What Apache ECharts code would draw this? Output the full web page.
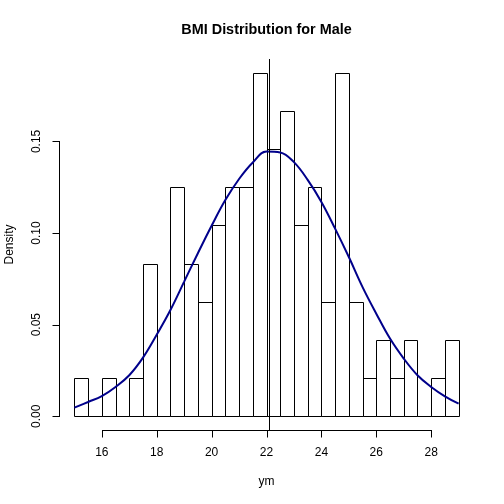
<!DOCTYPE html>
<html>
<head>
<meta charset="utf-8">
<script src="https://cdn.jsdelivr.net/npm/echarts@6/dist/echarts.min.js"></script>
<style>
html,body{margin:0;padding:0;background:#fff;}
#chart{width:504px;height:504px;}
</style>
</head>
<body>
<div id="chart"></div>
<script>
// Histogram bins (lower edges, width 0.5) and densities
const binLow = [15, 15.5, 16, 16.5, 17, 17.5, 18, 18.5, 19, 19.5, 20, 20.5, 21, 21.5,
                22, 22.5, 23, 23.5, 24, 24.5, 25, 25.5, 26, 26.5, 27, 27.5, 28, 28.5];
const binWidth = 0.5;
const binDensity = [0.0208, 0, 0.0208, 0, 0.0208, 0.0833, 0, 0.125, 0.0833, 0.0625, 0.1042, 0.125, 0.125, 0.1875,
                    0.1458, 0.1667, 0.1042, 0.125, 0.0625, 0.1875, 0.0625, 0.0208, 0.0417, 0.0208, 0.0417, 0, 0.0208, 0.0417];
// Normal curve
const curveX = [15, 15.5, 16, 16.5, 17, 17.5, 18, 18.5, 19, 19.5, 20, 20.5, 21, 21.5, 22,
                22.5, 23, 23.5, 24, 24.5, 25, 25.5, 26, 26.5, 27, 27.5, 28, 28.5, 29];
const curveY = [0.0047, 0.0078, 0.0110, 0.0160, 0.0224, 0.0320, 0.0445, 0.0580, 0.0735, 0.0890, 0.1040, 0.1180, 0.1295, 0.1385, 0.1445,
                0.1440, 0.1387, 0.1290, 0.1170, 0.1024, 0.0869, 0.0705, 0.0560, 0.0424, 0.0315, 0.0224, 0.0160, 0.0109, 0.0069];
const meanValue = 22.11;
const xTicks = [16, 18, 20, 22, 24, 26, 28];
const yTicks = [0, 0.05, 0.10, 0.15];
const xRange = [14.44, 29.56];
const yRange = [-0.0075, 0.195];

const FONT = '"Liberation Sans", Arial, sans-serif';
const TICK_LEN = 7;
const chart = echarts.init(document.getElementById('chart'), null, {renderer: 'canvas'});

const histData = binLow.map((lo, i) => [lo, lo + binWidth, binDensity[i]]);
const curveData = curveX.map((x, i) => [x, curveY[i]]);

chart.setOption({
  animation: false,
  backgroundColor: '#ffffff',
  title: {
    text: 'BMI Distribution for Male',
    left: 266.5,
    textAlign: 'center',
    top: 23,
    padding: 0,
    textStyle: {fontFamily: FONT, fontSize: 14.4, fontWeight: 'bold', color: '#000'}
  },
  grid: {left: 59, right: 30, top: 59, bottom: 74, containLabel: false, outerBoundsMode: 'none'},
  xAxis: {
    type: 'value',
    min: xRange[0], max: xRange[1],
    name: 'ym', nameLocation: 'middle', nameGap: 46,
    nameTextStyle: {fontFamily: FONT, fontSize: 12, color: '#000'},
    axisLine: {show: false},
    splitLine: {show: false},
    axisTick: {show: false},
    axisLabel: {show: true, customValues: xTicks, margin: 17, fontFamily: FONT, fontSize: 12, color: '#000'}
  },
  yAxis: {
    type: 'value',
    min: yRange[0], max: yRange[1],
    name: 'Density', nameLocation: 'middle', nameGap: 43, nameRotate: 90,
    nameTextStyle: {fontFamily: FONT, fontSize: 12, color: '#000'},
    axisLine: {show: false},
    splitLine: {show: false},
    axisTick: {show: false},
    axisLabel: {show: true, customValues: yTicks, rotate: 90, margin: 16, fontFamily: FONT, fontSize: 12, color: '#000',
      formatter: v => Number(v).toFixed(2)}
  },
  series: [
    {
      type: 'custom',
      name: 'hist',
      coordinateSystem: 'cartesian2d',
      clip: false,
      data: histData,
      renderItem: function (params, api) {
        const p0 = api.coord([api.value(0), api.value(2)]);
        const p1 = api.coord([api.value(1), 0]);
        return {
          type: 'rect',
          shape: {x: Math.round(p0[0]) + 0.5, y: Math.round(p0[1]) + 0.5,
                  width: Math.round(p1[0]) - Math.round(p0[0]), height: Math.round(p1[1]) - Math.round(p0[1])},
          style: {fill: 'none', stroke: '#000', lineWidth: 1}
        };
      },
      z: 2
    },
    {
      type: 'custom',
      name: 'axes',
      coordinateSystem: 'cartesian2d',
      clip: false,
      data: [[0]],
      renderItem: function (params, api) {
        const stroke = {stroke: '#000', lineWidth: 1};
        const a = api.coord([xTicks[0], yRange[0]]);
        const b = api.coord([xTicks[xTicks.length - 1], yRange[0]]);
        const c = api.coord([xRange[0], yTicks[0]]);
        const d = api.coord([xRange[0], yTicks[yTicks.length - 1]]);
        const ya = Math.round(a[1]) + 0.5;
        const xc = Math.round(c[0]) + 0.5;
        const children = [
          {type: 'line', shape: {x1: Math.round(a[0]), y1: ya, x2: Math.round(b[0]) + 1, y2: ya}, style: stroke},
          {type: 'line', shape: {x1: xc, y1: Math.round(c[1]) + 1, x2: xc, y2: Math.round(d[1])}, style: stroke}
        ];
        xTicks.forEach(t => {
          const p = api.coord([t, yRange[0]]);
          const x = Math.round(p[0]) + 0.5;
          children.push({type: 'line', shape: {x1: x, y1: ya, x2: x, y2: ya + TICK_LEN}, style: stroke});
        });
        yTicks.forEach(t => {
          const p = api.coord([xRange[0], t]);
          const y = Math.round(p[1]) + 0.5;
          children.push({type: 'line', shape: {x1: xc, y1: y, x2: xc - TICK_LEN, y2: y}, style: stroke});
        });
        return {type: 'group', children: children};
      },
      z: 1
    },
    {
      type: 'line',
      name: 'normal',
      data: curveData,
      smooth: 0.4,
      showSymbol: false,
      symbol: 'none',
      lineStyle: {color: '#00008B', width: 2},
      z: 3,
      markLine: {
        silent: true,
        symbol: ['none', 'none'],
        label: {show: false},
        lineStyle: {color: '#000', width: 1, type: 'solid'},
        data: [{xAxis: meanValue}]
      }
    }
  ]
});
</script>
</body>
</html>
